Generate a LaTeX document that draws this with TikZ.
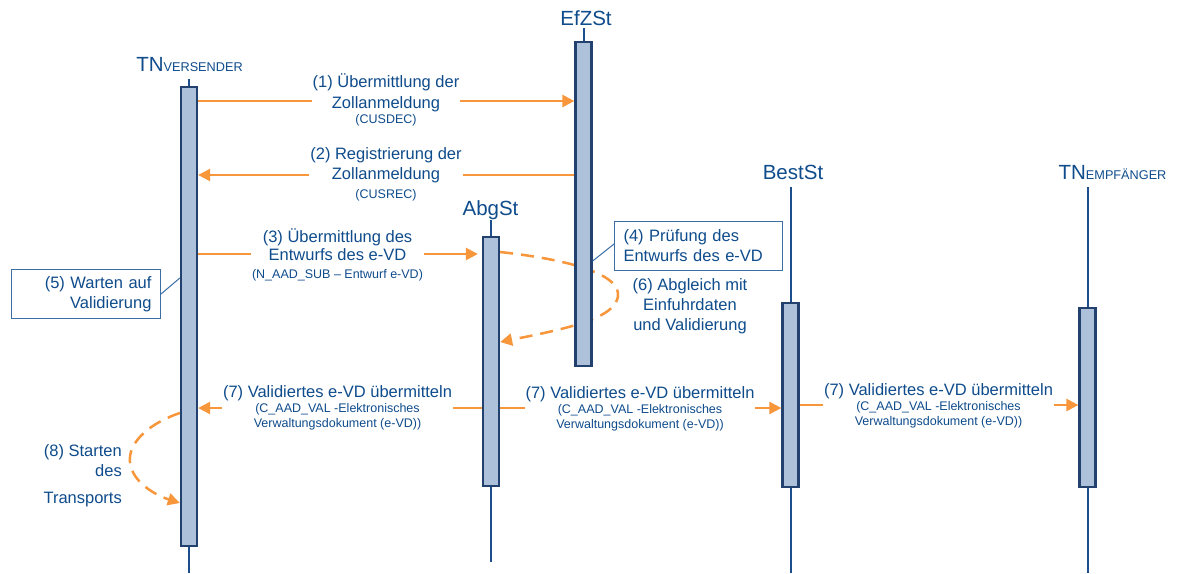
\documentclass[tikz,border=0pt]{standalone}
\usepackage{fontspec}
\setmainfont{Liberation Sans}
\usepackage{xcolor}
\usepackage{tikz}
\usetikzlibrary{arrows.meta,positioning}

\definecolor{zblue}{HTML}{0F4C8C}
\definecolor{zline}{HTML}{1B4E8A}
\definecolor{zbar}{HTML}{AEC1DA}
\definecolor{zbarline}{HTML}{22416F}
\definecolor{zorange}{HTML}{F7963A}
\definecolor{zbox}{HTML}{3A6EA5}
\newcommand{\subtxt}[1]{{\fontsize{12.5}{15}\selectfont #1}}
\newcommand{\tnsub}[1]{{\fontsize{12.7}{15}\selectfont #1}}

\begin{document}
\begin{tikzpicture}[
  x=1pt, y=-1pt,
  bar/.style={draw=zbarline, fill=zbar, line width=2.3pt, minimum width=16pt, inner sep=0pt},
  life/.style={draw=zline, line width=2pt},
  head/.style={text=zblue, font=\fontsize{20.5}{24}\selectfont, anchor=base, inner sep=0pt},
  msg/.style={draw=zorange, line width=2.5pt, -{Triangle[length=12pt,width=12pt]}},
  loopmsg/.style={msg, dash pattern=on 13pt off 8pt},
  lbl/.style={text=zblue, font=\fontsize{16.5}{20}\selectfont, align=center,
    fill=white, inner xsep=1pt, inner ysep=1pt},
  note/.style={draw=zbox, line width=1pt, text=zblue, font=\fontsize{16.5}{20}\selectfont,
    inner xsep=9pt, minimum height=49pt},
  lead/.style={draw=zbox, line width=1pt}
]
\path[use as bounding box, fill=white] (0,0) rectangle (1182,573);

\node[bar, minimum height=458.7pt] (vers) at (189,316.5) {};
\node[bar, minimum height=323.7pt] (efz) at (583.5,204) {};
\node[bar, minimum height=248.7pt] (abg) at (491,361.5) {};
\node[bar, minimum height=183.7pt] (best) at (790.5,395) {};
\node[bar, minimum height=178.7pt] (empf) at (1087.5,397.5) {};

\node[head] (versh) at (189.5,71) {TN\tnsub{VERSENDER}};
\node[head] (efzh) at (586,25) {EfZSt};
\node[head] (abgh) at (490.5,215) {AbgSt};
\node[head] (besth) at (793,179) {BestSt};
\node[head] (empfh) at (1112.5,179) {TN\tnsub{EMPFÄNGER}};

\draw[life] ([yshift=7pt]vers.north) -- (vers.south |- 0,573);
\draw[life] ([yshift=13pt]efz.north) -- (efz.north);
\draw[life] ([yshift=16pt]abg.north) -- (abg.south |- 0,562);
\draw[life] (best.north |- 0,187) -- (best.south |- 0,573);
\draw[life] (empf.north |- 0,187) -- (empf.south |- 0,573);

\draw[loopmsg] (abg.east |- 0,252) .. controls (590,262) and (625,280) .. (617,300)
  .. controls (610,320) and (560,330) .. (abg.east |- 0,342);
\draw[loopmsg] (vers.west |- 0,413) .. controls (145,425) and (128,445) .. (130,462)
  .. controls (132,482) and (155,495) .. (vers.west |- 0,503);

\draw[msg] (vers.east |- 0,101) -- (efz.west |- 0,101);
\draw[msg] (efz.west |- 0,175) -- (vers.east |- 0,175);
\draw[msg, shorten >=4pt] (vers.east |- 0,254) -- (abg.west |- 0,254);
\draw[msg] (abg.west |- 0,408) -- (vers.east |- 0,408);
\draw[msg] (abg.east |- 0,408) -- (best.west |- 0,408);
\draw[msg] (best.east |- 0,405) -- (empf.west |- 0,405);

\node[bar, minimum height=458.7pt] at (vers) {};
\node[bar, minimum height=323.7pt] at (efz) {};
\node[bar, minimum height=248.7pt] at (abg) {};
\node[bar, minimum height=183.7pt] at (best) {};
\node[bar, minimum height=178.7pt] at (empf) {};

\node[lbl] (m1) at (386,100) {(1) Übermittlung der\\[1pt]Zollanmeldung\\[-5pt]\subtxt{(CUSDEC)}};
\node[lbl] (m2) at (386,174.5) {(2) Registrierung der\\Zollanmeldung\\[-1pt]\subtxt{(CUSREC)}};
\node[lbl] (m3) at (337.5,255) {(3) Übermittlung des\\[-2pt]Entwurfs des e-VD\\[-2pt]\subtxt{(N\_AAD\_SUB – Entwurf e-VD)}};
\node[lbl] (m7a) at (337.5,408) {(7) Validiertes e-VD übermitteln\\[-5pt]\subtxt{(C\_AAD\_VAL -Elektronisches}\\[-5pt]\subtxt{Verwaltungsdokument (e-VD))}};
\node[lbl] (m7b) at (640,409) {(7) Validiertes e-VD übermitteln\\[-5pt]\subtxt{(C\_AAD\_VAL -Elektronisches}\\[-5pt]\subtxt{Verwaltungsdokument (e-VD))}};
\node[lbl] (m7c) at (938.5,405.5) {(7) Validiertes e-VD übermitteln\\[-5pt]\subtxt{(C\_AAD\_VAL -Elektronisches}\\[-5pt]\subtxt{Verwaltungsdokument (e-VD))}};

\node[note, text width=150pt, align=left, anchor=west] (chk) at (614,246) {(4) Prüfung des\\Entwurfs des e-VD};
\node[note, text width=131pt, align=right, anchor=east] (wait) at (161,294) {(5) Warten auf\\Validierung};
\draw[lead] (efz.east |- 0,261) -- ([yshift=2pt]chk.west);
\draw[lead] (wait.east) -- (vers.west |- 0,278);

\node[text=zblue, font=\fontsize{16.5}{20}\selectfont, align=center] (cmp) at (690,306) {(6) Abgleich mit\\Einfuhrdaten\\und Validierung};
\node[text=zblue, font=\fontsize{16.5}{20}\selectfont, align=right, anchor=east, inner sep=0pt] (go) at (122,476) {(8) Starten\\des\\[7pt]Transports};
\end{tikzpicture}
\end{document}
